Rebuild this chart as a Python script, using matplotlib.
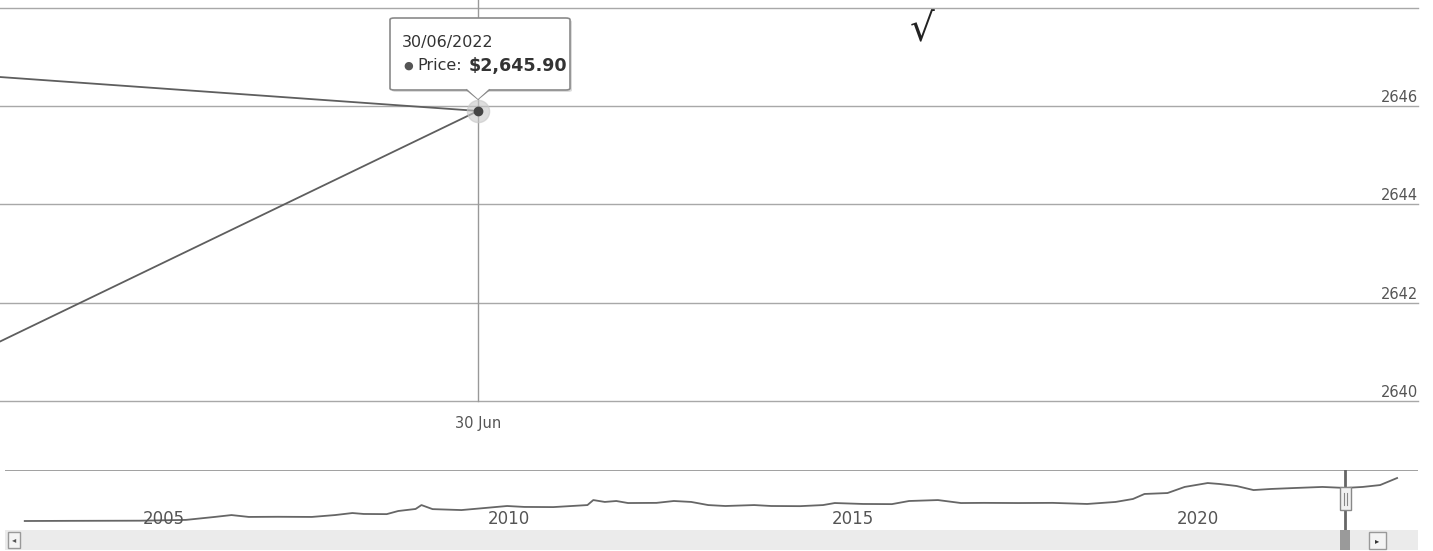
import pandas as pd
import matplotlib
matplotlib.use("Agg")
import matplotlib.pyplot as plt
import matplotlib.transforms as mtransforms
from matplotlib.patches import FancyBboxPatch, Rectangle, Polygon

# zoomed view: last two points of two lines meeting at 30 Jun 2022
main_dates = pd.to_datetime(["2022-06-29", "2022-06-30"])
price_upper = [2646.59, 2645.90]
price_lower = [2641.21, 2645.90]
y_ticks = [2640, 2642, 2644, 2646, 2648]
tip_date = "30/06/2022"
tip_value = "$2,645.90"

# navigator (full history)
nav_dates = pd.to_datetime([
    "2003-05", "2004-01", "2005-01", "2005-09", "2006-02", "2006-05", "2006-08",
    "2007-01", "2007-07", "2007-11", "2008-02", "2008-04", "2008-08", "2008-10",
    "2009-01", "2009-02", "2009-04", "2009-09", "2010-01", "2010-05", "2010-08",
    "2011-01", "2011-07", "2011-08", "2011-10", "2011-12", "2012-02", "2012-07",
    "2012-10", "2013-01", "2013-04", "2013-07", "2013-12", "2014-03", "2014-08",
    "2014-12", "2015-02", "2015-07", "2015-12", "2016-03", "2016-08", "2016-12",
    "2017-04", "2017-10", "2018-04", "2018-10", "2019-03", "2019-06", "2019-08",
    "2019-12", "2020-03", "2020-07", "2020-09", "2020-12", "2021-03", "2021-06",
    "2021-10", "2022-03", "2022-06-30", "2022-10", "2023-01", "2023-04"], format="mixed")
nav_values = [
    530, 540, 550, 600, 790, 910, 790,
    800, 790, 910, 1040, 980, 970, 1170,
    1300, 1550, 1290, 1230, 1360, 1490, 1430,
    1420, 1550, 1870, 1750, 1810, 1680, 1690,
    1810, 1750, 1550, 1490, 1550, 1490, 1480,
    1550, 1680, 1620, 1610, 1810, 1870, 1680,
    1690, 1680, 1690, 1620, 1750, 1940, 2260,
    2320, 2710, 2960, 2900, 2770, 2510, 2580,
    2640, 2710, 2646, 2710, 2830, 3280]
nav_years = [2005, 2010, 2015, 2020]

W, H = 1433, 551
fig = plt.figure(figsize=(W / 100, H / 100), dpi=100)
fig.patch.set_facecolor("white")


def fx(x):
    return x / W


def fy(y):
    return 1 - y / H


# ---- main chart
ax = fig.add_axes([0, fy(401), fx(1418), (401 - 7.7) / H])
ax.plot(main_dates, price_upper, color="#5e5e5e", lw=1.3, zorder=3)
ax.plot(main_dates, price_lower, color="#5e5e5e", lw=1.3, zorder=3)
sel = main_dates[-1]
ax.plot([sel], [price_upper[-1]], "o", ms=16, color="#c8c8c8", alpha=0.6, zorder=4)
ax.plot([sel], [price_upper[-1]], "o", ms=6, color="#444444", zorder=5)

span = pd.Timedelta(days=1) / (478 / 1418)
ax.set_xlim(main_dates[0], main_dates[0] + span)
ax.set_ylim(y_ticks[0], y_ticks[-1])
ax.set_yticks(y_ticks)
ax.set_yticklabels([])
ax.tick_params(axis="y", length=0)
ax.set_xticks([sel])
ax.set_xticklabels(["30 Jun"], fontsize=10.5, color="#555555")
ax.tick_params(axis="x", length=0, pad=11)
ax.grid(axis="y", color="#a8a8a8", lw=1)
for gl in ax.get_ygridlines():
    gl.set_clip_on(False)
for s in ax.spines.values():
    s.set_visible(False)

ytrans = mtransforms.offset_copy(ax.get_yaxis_transform(), fig=fig, x=0, y=1, units="dots")
for v in y_ticks[:-1]:
    ax.text(1, v, str(v), transform=ytrans, ha="right", va="bottom",
            fontsize=10.5, color="#555555")

# crosshair
ax.plot([sel, sel], [0, 1.02], transform=ax.get_xaxis_transform(),
        color="#999999", lw=1, clip_on=False, zorder=2)

# tooltip
tf = fig.transFigure
fig.patches.append(FancyBboxPatch((fx(392), fy(92)), fx(180), (92 - 20) / H,
                                  boxstyle="round,pad=0,rounding_size=0.003",
                                  transform=tf, facecolor="#bbbbbb", edgecolor="none",
                                  alpha=0.5, zorder=8))
fig.patches.append(FancyBboxPatch((fx(390), fy(90)), fx(180), (90 - 18) / H,
                                  boxstyle="round,pad=0,rounding_size=0.003",
                                  transform=tf, facecolor="white", edgecolor="#8a8a8a",
                                  lw=1.2, zorder=9))
fig.patches.append(Polygon([(fx(467), fy(89)), (fx(478), fy(99)), (fx(489), fy(89))],
                           closed=True, transform=tf, facecolor="white",
                           edgecolor="none", zorder=10))
fig.lines.append(plt.Line2D([fx(467), fx(478), fx(489)], [fy(90), fy(99), fy(90)],
                            transform=tf, color="#8a8a8a", lw=1.2, zorder=10))
fig.text(fx(402), fy(42), tip_date, fontsize=11.5, color="#333333", va="center", zorder=11)
fig.text(fx(403), fy(66), "\u25CF", fontsize=8, color="#555555", va="center", zorder=11)
fig.text(fx(417), fy(66), "Price:", fontsize=11.5, color="#333333", va="center", zorder=11)
fig.text(fx(469), fy(66), tip_value, fontsize=12.6, fontweight="bold", color="#333333",
         va="center", zorder=11)

# handwritten check mark
fig.text(fx(922), fy(30), "\u221A", fontsize=28, color="#222222",
         ha="center", va="center")

# ---- navigator
nav = fig.add_axes([fx(5), fy(530), fx(1418 - 5), 60 / H])
nav.plot(nav_dates, nav_values, color="#666666", lw=1.3)
x0 = pd.Timestamp("2005-01-01") - pd.Timedelta(days=365.25 * 135 / 68.9)
x1 = pd.Timestamp("2005-01-01") + pd.Timedelta(days=365.25 * 1278 / 68.9)
nav.set_xlim(x0, x1)
nav.set_ylim(530 - 9 * 64, 530 + 51 * 64)
nav.set_xticks([])
nav.set_yticks([])
for s in nav.spines.values():
    s.set_visible(False)
nav.axhline(nav.get_ylim()[1], color="#999999", lw=1.3)
ltrans = mtransforms.offset_copy(nav.get_xaxis_transform(), fig=fig, x=3, y=0, units="dots")
for yr in nav_years:
    nav.text(pd.Timestamp(f"{yr}-01-01"), 0.18, str(yr), transform=ltrans,
             ha="left", va="center", fontsize=12, color="#555555")
nav.axvline(sel, color="#666666", lw=2, zorder=5)
hw = pd.Timedelta(days=29)
nav.add_patch(Rectangle((sel - hw, 0.33), 2 * hw, 0.38, transform=nav.get_xaxis_transform(),
                        facecolor="#f2f2f2", edgecolor="#888888", lw=1, zorder=6))
for d in (-8, 8):
    nav.plot([sel + pd.Timedelta(days=d)] * 2, [0.42, 0.62], transform=nav.get_xaxis_transform(),
             color="#888888", lw=0.8, zorder=7)

# ---- scrollbar
sb = fig.add_axes([fx(5), fy(550), fx(1418 - 5), 20 / H], sharex=nav)
sb.set_facecolor("#ebebeb")
sb.set_ylim(0, 1)
sb.tick_params(length=0, labelbottom=False, labelleft=False)
for s in sb.spines.values():
    s.set_visible(False)
sb.add_patch(Rectangle((sel - pd.Timedelta(days=25), 0), pd.Timedelta(days=50), 1,
                       transform=sb.get_xaxis_transform(), facecolor="#9a9a9a",
                       edgecolor="none", zorder=3))
fig.patches.append(Rectangle((fx(8), fy(548)), fx(12), 16 / H, transform=tf,
                             facecolor="#f4f4f4", edgecolor="#999999", lw=1, zorder=5))
fig.text(fx(14), fy(540), "\u25C2", fontsize=6, color="#555555", ha="center", va="center", zorder=6)
fig.patches.append(Rectangle((fx(1369), fy(549)), fx(17), 17 / H, transform=tf,
                             facecolor="#f4f4f4", edgecolor="#999999", lw=1, zorder=5))
fig.text(fx(1377.5), fy(540.5), "\u25B8", fontsize=6, color="#333333", ha="center", va="center", zorder=6)

fig.savefig("out.png", dpi=100)
